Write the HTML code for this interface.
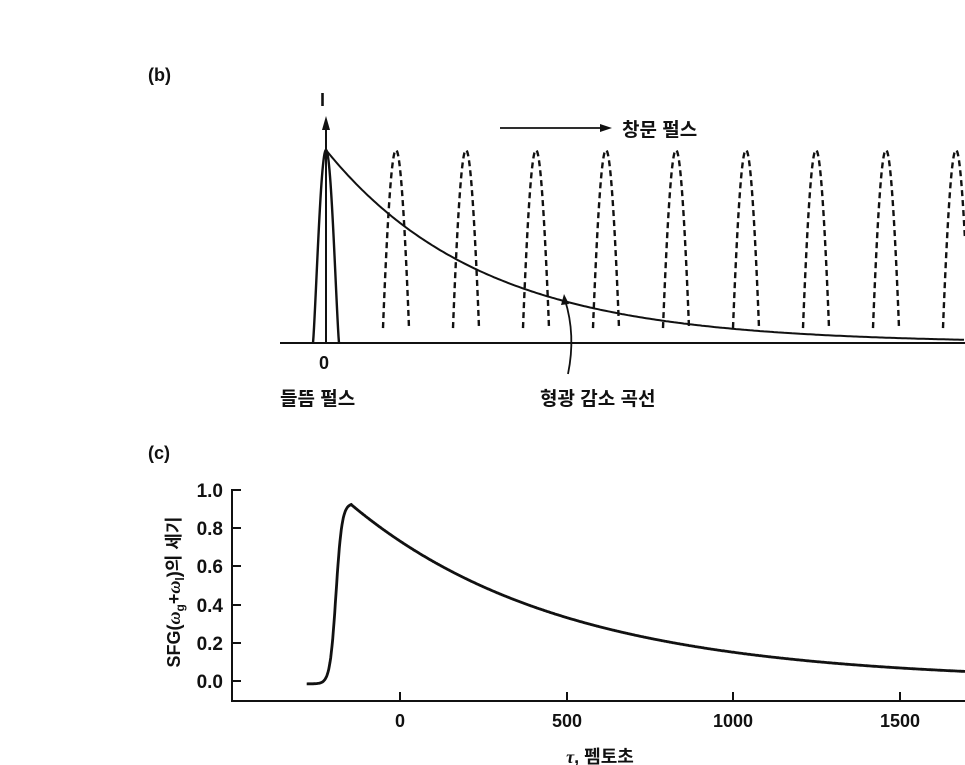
<!DOCTYPE html>
<html><head><meta charset="utf-8"><style>
html,body{margin:0;padding:0;background:#fff;}
svg{display:block;}
text{font-family:"Liberation Sans","Noto Sans CJK KR",sans-serif;fill:#111;}
</style></head><body>
<svg id="s" width="965" height="765" viewBox="0 0 965 765" xmlns="http://www.w3.org/2000/svg">
<text x="148" y="81" font-size="18" font-weight="bold">(b)</text>
<text x="320" y="106" font-size="18" font-weight="bold">I</text>
<line x1="280" y1="343" x2="965" y2="343" stroke="#111" stroke-width="2"/>
<line x1="326" y1="343" x2="326" y2="126" stroke="#111" stroke-width="2"/>
<polygon points="326,116 322,130 330,130" fill="#111"/>
<path id="pump" fill="none" stroke="#111" stroke-width="2.4"/>
<path id="decayb" fill="none" stroke="#111" stroke-width="2"/>
<g id="dash" fill="none" stroke="#111" stroke-width="2.4" stroke-dasharray="6,4"></g>
<line x1="500" y1="128" x2="603" y2="128" stroke="#111" stroke-width="1.8"/>
<polygon points="612,128 600,124 600,132" fill="#111"/>
<text x="622" y="136" font-size="19" font-weight="bold">창문 펄스</text>
<path d="M568,374 Q576,335 565,300" fill="none" stroke="#111" stroke-width="1.8"/>
<polygon points="564,294 561,305 569,304" fill="#111"/>
<text x="319" y="369" font-size="18" font-weight="bold">0</text>
<text x="280" y="405" font-size="19" font-weight="bold">들뜸 펄스</text>
<text x="540" y="405" font-size="19" font-weight="bold">형광 감소 곡선</text>

<text x="148" y="459" font-size="18" font-weight="bold">(c)</text>
<path d="M241,490 H232 V701 H965" fill="none" stroke="#111" stroke-width="2"/>
<g stroke="#111" stroke-width="2">
<line x1="232" y1="528" x2="241" y2="528"/><line x1="232" y1="566" x2="241" y2="566"/>
<line x1="232" y1="605" x2="241" y2="605"/><line x1="232" y1="643" x2="241" y2="643"/>
<line x1="232" y1="681" x2="241" y2="681"/>
<line x1="400" y1="701" x2="400" y2="692"/><line x1="567" y1="701" x2="567" y2="692"/>
<line x1="733" y1="701" x2="733" y2="692"/><line x1="900" y1="701" x2="900" y2="692"/>
</g>
<g font-size="19" font-weight="bold" text-anchor="end">
<text x="223" y="497">1.0</text><text x="223" y="535">0.8</text><text x="223" y="573">0.6</text>
<text x="223" y="612">0.4</text><text x="223" y="650">0.2</text><text x="223" y="688">0.0</text>
</g>
<g font-size="18" font-weight="bold" text-anchor="middle">
<text x="400" y="727">0</text><text x="567" y="727">500</text><text x="733" y="727">1000</text><text x="900" y="727">1500</text>
<text x="600" y="763"><tspan font-style="italic" font-family="Liberation Serif">τ</tspan>, 펨토초</text>
</g>
<text transform="translate(180,592) rotate(-90)" font-size="18" font-weight="bold" text-anchor="middle">SFG(<tspan font-style="italic" font-family="Liberation Serif">ω</tspan><tspan font-size="12" dy="4">g</tspan><tspan dy="-4">+</tspan><tspan font-style="italic" font-family="Liberation Serif">ω</tspan><tspan font-size="12" dy="4">l</tspan><tspan dy="-4">)의 세기</tspan></text>
<path id="sfg" fill="none" stroke="#111" stroke-width="2.8"/>
</svg>
<script>
function sh(x,c,w,p){var u=(x-c)/w;if(Math.abs(u)>1)return 0;return Math.pow(Math.cos(u*Math.PI/2),p);}
var d="";
for(var x=313;x<=339;x+=0.5){var y=343-193*sh(x,326,13,1.2);d+=(d?"L":"M")+x.toFixed(1)+","+y.toFixed(1);}
document.getElementById("pump").setAttribute("d",d);
d="";
for(var x=326;x<=965;x+=2){var y=343-193*Math.exp(-(x-326)/156);d+=(d?"L":"M")+x+","+y.toFixed(1);}
document.getElementById("decayb").setAttribute("d",d);
var gd=document.getElementById("dash"),h="";
for(var i=0;i<9;i++){var c=396+70*i,p="";
 for(var x=c-13;x<=c+13;x+=0.5){if(x>965)break;var y=343-193*sh(x,c,13.5,0.9);if(y>341)y=341;p+=(p?"L":"M")+x.toFixed(1)+","+y.toFixed(1);}
 h+='<path d="'+p+'"/>';}
gd.innerHTML=h;
d="";
function X(t){return 400+t/3;}function Y(v){return 681-v*191;}
var tp=-144;
for(var t=-280;t<=1700;t+=2){
 var v;
 if(t<tp){var r=1/(1+Math.exp(-(t-(-192))/9));v=0.93*r-0.015*(1-r);}
 else{v=0.92*Math.exp(-(t-tp)/632);}
 d+=(d?"L":"M")+X(t).toFixed(1)+","+Y(v).toFixed(1);}
document.getElementById("sfg").setAttribute("d",d);
</script>
</body></html>
